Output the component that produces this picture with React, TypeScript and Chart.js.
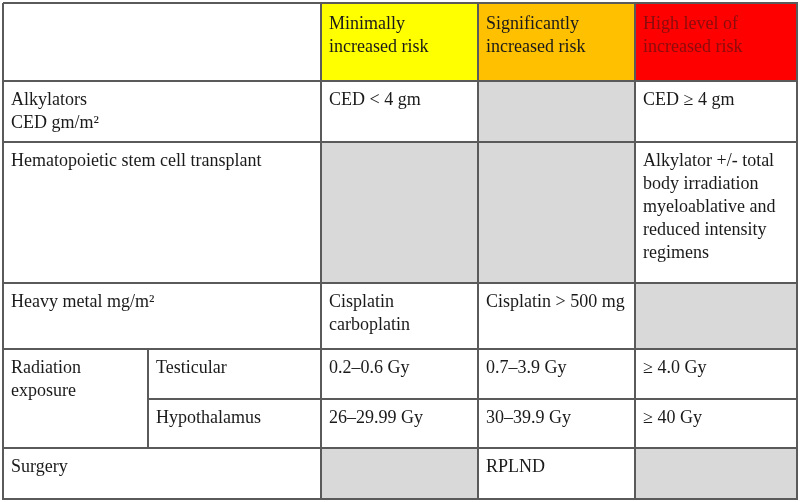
import React, { useEffect, useRef } from "react";
import { Chart, registerables } from "chart.js";

Chart.register(...registerables);

// ---- data ----
const riskLevels = ["Minimally\nincreased risk", "Significantly\nincreased risk", "High level of\nincreased risk"];
const exposureLabels = ["Alkylators\nCED gm/m²", "Hematopoietic stem cell transplant", "Heavy metal mg/m²", "Radiation\nexposure", "Surgery"];
const radiationSites = ["Testicular", "Hypothalamus"];
// rows: Alkylators, HSCT, Heavy metal, Testicular, Hypothalamus, Surgery (null = not applicable / gray)
const minimalRisk = ["CED < 4 gm", null, "Cisplatin\ncarboplatin", "0.2–0.6 Gy", "26–29.99 Gy", null];
const significantRisk = [null, null, "Cisplatin > 500 mg", "0.7–3.9 Gy", "30–39.9 Gy", "RPLND"];
const highRisk = ["CED ≥ 4 gm", "Alkylator +/- total\nbody irradiation\nmyeloablative and\nreduced intensity\nregimens", null, "≥ 4.0 Gy", "≥ 40 Gy", null];

// ---- layout / style ----
const colEdges = [3, 148, 321, 478, 635, 797];
const rowEdges = [3, 81, 142, 283, 349, 399, 448, 499];
const riskColors = ["#FFFF00", "#FFC000", "#FF0000"];
const riskTextColors = ["#1a1a1a", "#1a1a1a", "#8a0c0c"];
const GRAY = "#D9D9D9";
const WHITE = "#FFFFFF";
const BORDER = "#5a5a5a";
const TEXT = "#1a1a1a";
const FONT = '18px "Liberation Serif", "Times New Roman", serif';

type Cell = { c0: number; c1: number; r0: number; r1: number; fill: string; text: string | null; color: string; header?: boolean };

function buildCells(): Cell[] {
  const cells: Cell[] = [];
  cells.push({ c0: 0, c1: 2, r0: 0, r1: 1, fill: WHITE, text: null, color: TEXT, header: true });
  riskLevels.forEach((t, i) => cells.push({ c0: 2 + i, c1: 3 + i, r0: 0, r1: 1, fill: riskColors[i], text: t, color: riskTextColors[i], header: true }));
  // row labels
  const rowOf = [1, 2, 3, 4, 5, 6];
  cells.push({ c0: 0, c1: 2, r0: 1, r1: 2, fill: WHITE, text: exposureLabels[0], color: TEXT });
  cells.push({ c0: 0, c1: 2, r0: 2, r1: 3, fill: WHITE, text: exposureLabels[1], color: TEXT });
  cells.push({ c0: 0, c1: 2, r0: 3, r1: 4, fill: WHITE, text: exposureLabels[2], color: TEXT });
  cells.push({ c0: 0, c1: 1, r0: 4, r1: 6, fill: WHITE, text: exposureLabels[3], color: TEXT });
  cells.push({ c0: 1, c1: 2, r0: 4, r1: 5, fill: WHITE, text: radiationSites[0], color: TEXT });
  cells.push({ c0: 1, c1: 2, r0: 5, r1: 6, fill: WHITE, text: radiationSites[1], color: TEXT });
  cells.push({ c0: 0, c1: 2, r0: 6, r1: 7, fill: WHITE, text: exposureLabels[4], color: TEXT });
  [minimalRisk, significantRisk, highRisk].forEach((series, k) => {
    series.forEach((v, i) => {
      const r = rowOf[i];
      cells.push({ c0: 2 + k, c1: 3 + k, r0: r, r1: r + 1, fill: v === null ? GRAY : WHITE, text: v, color: TEXT });
    });
  });
  return cells;
}

export default function App() {
  const ref = useRef<HTMLCanvasElement | null>(null);
  useEffect(() => {
    if (!ref.current) return;
    const cells = buildCells();
    const datasets = cells.map((c) => {
      const x0 = colEdges[c.c0], x1 = colEdges[c.c1], y0 = rowEdges[c.r0], y1 = rowEdges[c.r1];
      return {
        data: [
          { x: x0, y: y0 },
          { x: x1, y: y0 },
          { x: x1, y: y1 },
          { x: x0, y: y1 },
          { x: x0, y: y0 },
        ],
        showLine: true,
        fill: "shape",
        backgroundColor: c.fill,
        borderColor: BORDER,
        borderWidth: 2,
        pointRadius: 0,
        tension: 0,
        clip: false as any,
      };
    });
    const textPlugin = {
      id: "cellText",
      afterDatasetsDraw(chart: any) {
        const ctx = chart.ctx;
        const xs = chart.scales.x, ys = chart.scales.y;
        ctx.save();
        ctx.font = FONT;
        ctx.textBaseline = "alphabetic";
        ctx.textAlign = "left";
        cells.forEach((c) => {
          if (!c.text) return;
          const px = xs.getPixelForValue(colEdges[c.c0]) + 8;
          const py = ys.getPixelForValue(rowEdges[c.r0]) + (c.header ? 26 : 24);
          ctx.fillStyle = c.color;
          c.text.split("\n").forEach((line, i) => ctx.fillText(line, px, py + i * 23));
        });
        ctx.restore();
      },
    };
    const chart = new Chart(ref.current, {
      type: "scatter",
      data: { datasets: datasets as any },
      options: {
        animation: false,
        responsive: true,
        maintainAspectRatio: false,
        devicePixelRatio: 1,
        layout: { padding: 0 },
        events: [],
        scales: {
          x: { type: "linear", min: 0, max: 800, display: false },
          y: { type: "linear", min: 0, max: 502, reverse: true, display: false },
        },
        plugins: {
          legend: { display: false },
          tooltip: { enabled: false },
          filler: { drawTime: "beforeDatasetsDraw" } as any,
        },
      },
      plugins: [textPlugin],
    });
    return () => chart.destroy();
  }, []);
  return (
    <div style={{ position: "fixed", left: 0, top: 0, width: 800, height: 502, background: "#fff" }}>
      <canvas ref={ref} />
    </div>
  );
}
